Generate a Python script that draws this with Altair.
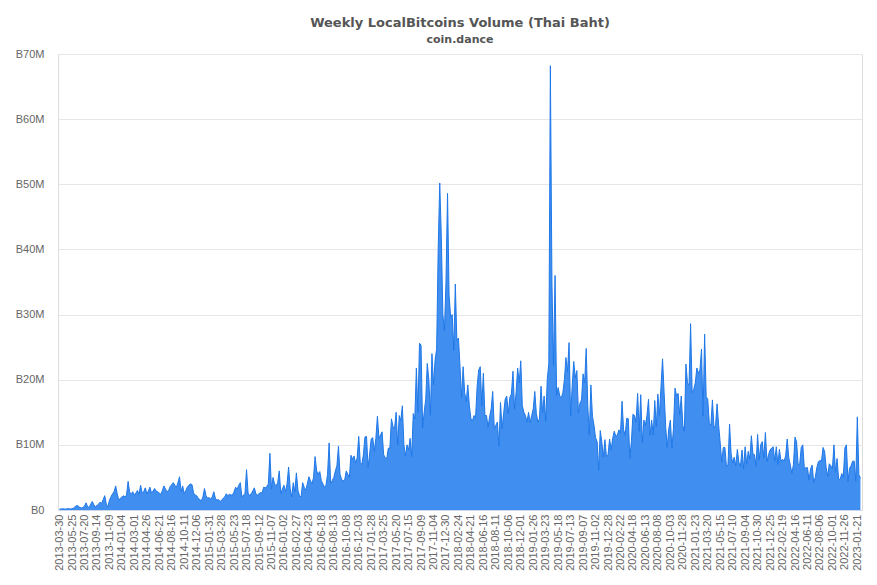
import altair as alt
import pandas as pd

start_week = "2013-03-30"

# Weekly volume in millions of Thai Baht (10 weeks per row)
vol_2013_2014 = [
    0.15, 0.15, 0.2, 0.15, 0.15, 0.2, 0.2, 0.15, 0.2, 0.3,
    0.5, 0.7, 0.6, 0.4, 0.3, 0.4, 0.6, 1.1, 0.5, 0.4,
    0.9, 1.3, 0.8, 0.5, 0.7, 0.9, 1.2, 1.0, 1.6, 2.2,
    0.9, 0.5, 1.5, 2.0, 2.5, 2.8, 3.7, 2.5, 1.5, 1.8,
    2.0, 2.2, 2.0, 2.3, 4.4, 2.7, 2.5, 2.8, 2.3, 2.6,
    3.0, 2.4, 3.8, 2.6, 2.8, 3.4, 2.5, 2.9, 3.5, 2.6,
    2.9, 3.3, 2.9, 2.8, 2.6, 2.4, 3.0, 3.7, 3.2, 2.8,
    3.0, 3.6, 3.9, 4.2, 3.8, 3.5, 4.2, 5.1, 2.8, 3.7,
    2.5, 3.0, 3.5, 3.8, 4.0, 3.9, 2.6, 2.3, 2.2, 1.8,
]
vol_2015_2016 = [
    1.6, 1.4, 2.0, 3.3, 2.2, 1.8, 1.9, 1.7, 2.0, 2.8,
    1.8, 1.5, 1.6, 1.3, 1.5, 1.8, 2.0, 2.5, 2.2, 2.4,
    2.3, 2.3, 2.8, 3.5, 3.2, 3.8, 4.2, 2.0, 2.3, 2.5,
    6.2, 2.6, 2.2, 2.5, 2.9, 3.4, 2.5, 2.3, 2.5, 2.7,
    2.6, 3.5, 3.4, 3.6, 4.0, 8.7, 3.2, 5.0, 4.0, 3.7,
    4.2, 6.0, 2.5, 3.2, 3.8, 2.8, 4.0, 6.6, 3.3, 2.0,
    4.2, 2.8, 5.7, 3.0, 2.2, 2.0, 4.2, 3.5, 3.0, 4.0,
    5.1, 4.5, 4.0, 5.0, 8.2, 6.0, 5.5, 5.9, 4.5, 4.0,
    3.5, 3.8, 5.5, 10.3, 4.1, 4.5, 5.0, 6.0, 6.8, 9.8,
    5.5, 4.7, 4.5, 4.6, 6.0, 5.5, 5.0, 8.4, 7.8, 8.3,
    7.2, 8.0, 11.3, 7.3, 7.0, 8.5, 11.2, 11.3, 6.5, 8.6,
]
vol_2017_2018 = [
    10.9, 11.1, 9.0, 11.0, 14.4, 11.0, 11.5, 12.0, 8.5, 8.0,
    7.9, 9.5, 9.5, 14.0, 12.8, 12.5, 15.0, 10.0, 14.5, 13.7,
    16.0, 10.0, 8.3, 10.0, 9.2, 11.0, 8.2, 14.8, 14.0, 21.8,
    15.0, 25.6, 25.3, 12.6, 15.0, 17.0, 22.5, 20.0, 14.5, 24.0,
    19.2, 23.0, 24.7, 40.0, 50.2, 42.0, 30.0, 27.5, 35.0, 48.6,
    33.0, 29.6, 30.0, 24.5, 34.7, 26.0, 26.4, 22.0, 17.2, 22.0,
    18.0, 16.6, 19.2, 16.0, 14.0, 13.7, 14.5, 14.2, 19.0, 21.5,
    22.0, 16.0, 21.0, 14.5, 14.5, 12.7, 14.3, 15.5, 18.2, 12.5,
    13.0, 13.5, 9.8, 16.5, 12.5, 14.8, 17.0, 17.5, 14.8, 17.3,
    17.8, 21.3, 15.5, 18.0, 21.8, 19.5, 22.9, 16.0, 15.0, 14.5,
]
vol_2019_2020 = [
    13.5, 15.0, 13.4, 14.5, 15.5, 18.2, 14.8, 13.5, 14.0, 19.0,
    15.0, 17.5, 13.6, 20.0, 22.5, 68.2, 35.0, 22.2, 36.0, 17.6,
    18.8, 17.5, 17.2, 18.0, 20.0, 23.4, 21.2, 25.7, 14.4, 19.0,
    22.8, 20.3, 21.4, 14.9, 16.4, 16.9, 20.9, 19.5, 24.8, 16.0,
    11.5, 19.2, 14.4, 13.0, 11.1, 10.5, 6.1, 12.2, 10.5, 8.1,
    10.8, 8.2, 8.5, 10.9, 9.2, 11.0, 12.1, 11.3, 11.5, 12.3,
    11.8, 16.7, 12.3, 11.5, 14.1, 14.0, 7.9, 10.5, 14.7, 14.5,
    13.5, 17.9, 12.1, 17.7, 10.3, 13.8, 13.0, 14.5, 17.0, 11.5,
    13.8, 11.5, 16.8, 12.8, 17.8, 14.5, 19.0, 23.2, 18.0, 12.8,
    9.6, 12.5, 13.8, 9.5, 12.5, 18.7, 17.5, 17.9, 14.6, 17.5,
]
vol_2021_2023 = [
    13.0, 12.1, 22.4, 19.5, 19.2, 28.6, 18.0, 18.5, 19.5, 21.8,
    21.0, 21.5, 24.7, 14.4, 27.0, 17.4, 17.0, 13.3, 13.0, 16.9,
    12.6, 13.0, 16.3, 13.0, 10.3, 7.3, 9.6, 9.6, 6.7, 7.0,
    13.2, 8.6, 7.2, 8.1, 6.8, 9.3, 7.3, 6.7, 9.2, 6.3,
    9.7, 7.0, 9.0, 7.8, 11.4, 8.6, 8.5, 6.7, 11.6, 7.7,
    10.0, 10.5, 8.0, 11.9, 7.4, 8.5, 9.2, 9.5, 9.7, 7.5,
    9.7, 7.0, 9.3, 7.5, 7.8, 7.5, 8.3, 10.9, 8.0, 6.9,
    5.6, 7.0, 11.2, 10.5, 7.0, 7.0, 9.6, 10.0, 6.3, 6.5,
    6.5, 4.6, 6.3, 6.9, 4.2, 5.0, 6.5, 7.4, 7.6, 7.5,
    9.6, 9.0, 6.5, 5.2, 7.1, 6.8, 6.3, 10.0, 5.8, 7.9,
    4.7, 4.7, 5.6, 5.0, 9.5, 10.0, 4.4, 6.4, 6.8, 7.5,
    7.5, 4.4, 14.3, 5.4, 4.9,
]

tick_labels = [
    "2013-03-30", "2013-05-25", "2013-07-20", "2013-09-14", "2013-11-09",
    "2014-01-04", "2014-03-01", "2014-04-26", "2014-06-21", "2014-08-16",
    "2014-10-11", "2014-12-06", "2015-01-31", "2015-03-28", "2015-05-23",
    "2015-07-18", "2015-09-12", "2015-11-07", "2016-01-02", "2016-02-27",
    "2016-04-23", "2016-06-18", "2016-08-13", "2016-10-08", "2016-12-03",
    "2017-01-28", "2017-03-25", "2017-05-20", "2017-07-15", "2017-09-09",
    "2017-11-04", "2017-12-30", "2018-02-24", "2018-04-21", "2018-06-16",
    "2018-08-11", "2018-10-06", "2018-12-01", "2019-01-26", "2019-03-23",
    "2019-05-18", "2019-07-13", "2019-09-07", "2019-11-02", "2019-12-28",
    "2020-02-22", "2020-04-18", "2020-06-13", "2020-08-08", "2020-10-03",
    "2020-11-28", "2021-01-23", "2021-03-20", "2021-05-15", "2021-07-10",
    "2021-09-04", "2021-10-30", "2021-12-25", "2022-02-19", "2022-04-16",
    "2022-06-11", "2022-08-06", "2022-10-01", "2022-11-26", "2023-01-21",
]

values = vol_2013_2014 + vol_2015_2016 + vol_2017_2018 + vol_2019_2020 + vol_2021_2023
weeks = pd.date_range(start_week, periods=len(values), freq="7D").strftime("%Y-%m-%d").tolist()
df = pd.DataFrame({"week": weeks, "volume": values})

chart = alt.Chart(df).mark_area(
    color="#3f8ef0",
    opacity=1,
    line={"color": "#1f78e8", "strokeWidth": 1},
).encode(
    x=alt.X(
        "week:O",
        sort=None,
        title=None,
        scale=alt.Scale(type="point", padding=2.3),
        axis=alt.Axis(
            values=tick_labels,
            labelAngle=-90,
            labelFont="Liberation Sans",
            labelFontSize=11,
            labelColor="#666666",
            labelPadding=4,
            labelOverlap=False,
            ticks=False,
            domain=True,
            domainColor="#ccd6eb",
            grid=False,
        ),
    ),
    y=alt.Y(
        "volume:Q",
        title=None,
        scale=alt.Scale(domain=[0, 70], nice=False),
        axis=alt.Axis(
            values=[0, 10, 20, 30, 40, 50, 60, 70],
            labelExpr="datum.value == 0 ? 'B0' : 'B' + datum.value + 'M'",
            labelFont="Liberation Sans",
            labelFontSize=11,
            labelColor="#666666",
            labelPadding=14,
            ticks=False,
            domain=False,
            grid=True,
            gridColor="#e6e6e6",
            gridWidth=1,
        ),
    ),
).properties(
    width=804,
    height=456,
    autosize=alt.AutoSizeParams(type="none"),
    padding={"left": 50, "top": 46, "right": 5, "bottom": 70},
    title=alt.TitleParams(
        "Weekly LocalBitcoins Volume (Thai Baht)",
        subtitle="coin.dance",
        font="DejaVu Sans",
        fontSize=13,
        fontWeight="bold",
        color="#555555",
        subtitleFont="DejaVu Sans",
        subtitleFontSize=11,
        subtitleFontWeight="bold",
        subtitleColor="#555555",
        subtitlePadding=4,
        anchor="middle",
        offset=3,
    ),
).configure_view(stroke=None).configure(background="white")

chart.save("out.html", embed_options={"renderer": "svg", "actions": False})
